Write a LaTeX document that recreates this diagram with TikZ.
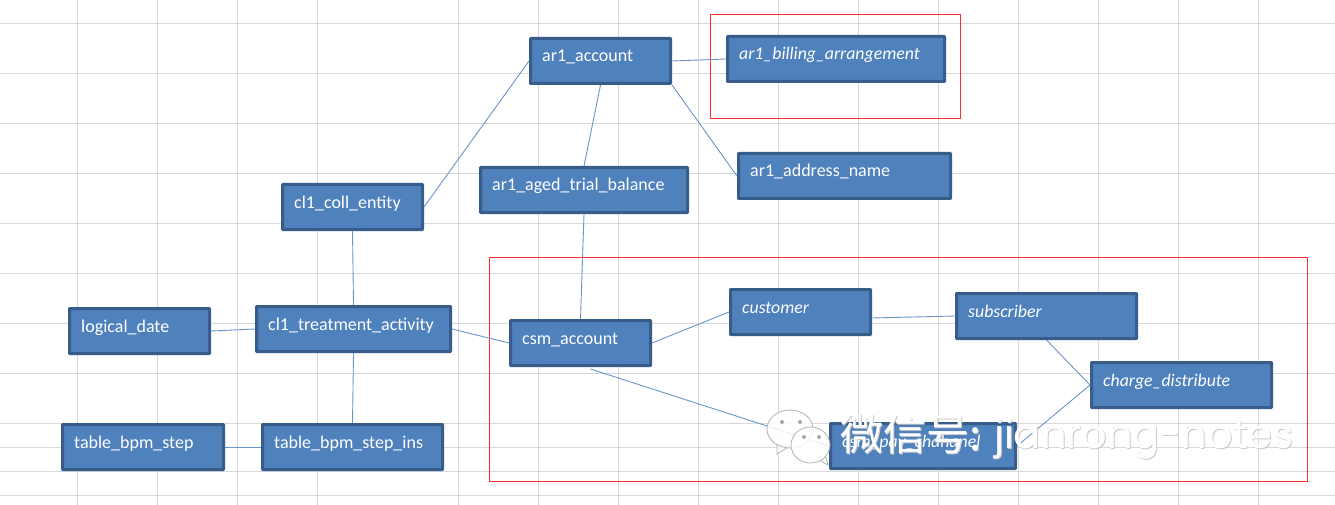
\documentclass[tikz,border=0pt]{standalone}
\usepackage{fontspec}
\setmainfont{Carlito}
\newfontfamily\cjkfont{Noto Sans CJK SC}
\newfontfamily\latinmark{Poppins}
\definecolor{gridgray}{HTML}{D9D9D9}
\definecolor{boxfill}{HTML}{4F81BD}
\definecolor{boxedge}{HTML}{385D8A}
\definecolor{linkblue}{HTML}{6A94CA}
\definecolor{framered}{HTML}{FF3030}
\tikzset{
  x=1pt,y=-1pt,
  tablebox/.style={draw=boxedge,fill=boxfill,line width=3pt,rounded corners=0.6pt,inner sep=0pt,outer sep=1.5pt},
  link/.style={draw=linkblue,line width=0.9pt},
  caption/.style={text=white,font=\fontsize{18}{20}\selectfont,anchor=base west,inner sep=0pt,yshift=-1pt},
  italiccaption/.style={caption,font=\fontsize{17.8}{20}\selectfont\itshape},
  gridline/.style={draw=gridgray,line width=1pt},
  frameline/.style={draw=framered,line width=1.2pt,inner sep=0pt,outer sep=0pt},
  cjkmark/.style={font=\cjkfont\fontsize{43}{46}\selectfont,anchor=base west,inner sep=0pt},
  latinmk/.style={font=\latinmark\fontsize{40}{46}\selectfont,anchor=base west,inner sep=0pt},
  bubble/.style={draw=black!30,fill=white,fill opacity=0.85,line width=0.8pt},
  bubbleeye/.style={fill=black!35}
}
% box: name, x0, y0, x1, y1 (outer edges)
\newcommand{\tbox}[5]{\node[tablebox,minimum width=#4-#2-3pt,minimum height=#5-#3-3pt] (#1) at ({(#2+#4)/2},{(#3+#5)/2}) {};}
\begin{document}
\begin{tikzpicture}
\useasboundingbox (0,0) rectangle (1335,505);
\fill[white] (0,0) rectangle (1335,505);
% sheet grid
\foreach \gx in {77.5,157.5,237.5,317.5,458.5,538.5,618.5,698.5,778.5,858.5,938.5,1018.5,1098.5,1178.5,1258.5}
  \draw[gridline] (\gx,0) -- (\gx,505);
\foreach \gy in {23.5,73.5,123.5,173.5,223.5,273.5,323.5,373.5,423.5,447.5,471.5,495.5}
  \draw[gridline] (0,\gy) -- (1335,\gy);
% grouping frames
\node[frameline,minimum width=250pt,minimum height=104pt] (billframe) at (835.5,66.5) {};
\node[frameline,minimum width=818pt,minimum height=224pt] (csmframe) at (898.5,369.5) {};
% table boxes
\tbox{account}{529}{37}{672}{85}
\tbox{billing}{726}{35}{946}{83}
\tbox{address}{737}{152}{952}{200}
\tbox{aged}{479}{166}{689}{214}
\tbox{coll}{281}{183}{424}{231}
\tbox{logical}{68}{307}{211}{355}
\tbox{treatment}{255}{305}{452}{353}
\tbox{bpmstep}{61}{423}{225}{471}
\tbox{bpmins}{261}{423}{444}{471}
\tbox{csm}{509}{319}{652}{367}
\tbox{customer}{729}{288}{872}{336}
\tbox{subscriber}{955}{292}{1138}{340}
\tbox{charge}{1090}{361}{1273}{409}
\tbox{pay}{829}{422}{1017}{470}
% connectors
\draw[link] (account.east) -- (billing.west);
\draw[link] (coll.east) -- (account.west);
\draw[link] (account.south) -- (aged.north);
\draw[link] (aged.south) -- (csm.north);
\draw[link] (account.south east) -- (address.west);
\draw[link] (coll.south) -- (treatment.north);
\draw[link] (logical.east) -- (treatment.west);
\draw[link] (treatment.east) -- (csm.west);
\draw[link] (treatment.south) -- (bpmins.north);
\draw[link] (bpmstep.east) -- (bpmins.west);
\draw[link] (csm.east) -- (customer.west);
\draw[link] ([yshift=-6pt]customer.east) -- (subscriber.west);
\draw[link] ([xshift=10pt,yshift=-2pt]csm.south) -- (pay.west);
\draw[link] (subscriber.south) -- (charge.west);
\draw[link] (pay.east) -- (charge.west);
% captions
\node[caption] (t1) at (542,61) {ar1\_account};
\node[italiccaption] (t2) at (739,59) {ar1\_billing\_arrangement};
\node[caption] (t3) at (750,176) {ar1\_address\_name};
\node[caption] (t4) at (492,190) {ar1\_aged\_trial\_balance};
\node[caption] (t5) at (294,207) {cl1\_coll\_entity};
\node[caption] (t6) at (81,331) {logical\_date};
\node[caption] (t7) at (268,329) {cl1\_treatment\_activity};
\node[caption] (t8) at (74,447) {table\_bpm\_step};
\node[caption] (t9) at (274,447) {table\_bpm\_step\_ins};
\node[caption] (t10) at (522,343) {csm\_account};
\node[italiccaption] (t11) at (742,312) {customer};
\node[italiccaption] (t12) at (968,316) {subscriber};
\node[italiccaption] (t13) at (1103,385) {charge\_distribute};
\node[italiccaption] (t14) at (842,446) {csm\_pay\_chahanel};
% overlaid account mark: two chat bubbles
\path[bubble] (777,444) -- (777,454) -- (790,446) -- cycle;
\path[bubble] (790,429) ellipse (23pt and 19pt);
\path[bubble] (817,459) -- (828,465) -- (825,454) -- cycle;
\path[bubble] (810.5,445) ellipse (19.5pt and 18pt);
\fill[bubbleeye] (782,422) circle (2pt) (800,422) circle (2pt);
\fill[bubbleeye] (804,437) circle (2pt) (819,437) circle (2pt);
% overlaid account mark: lettering with a soft shadow
\node[cjkmark,text=black!20] (cjkshadow) at (841,451) {微信号:};
\node[cjkmark,text=white] (cjkmain) at (840,450) {微信号:};
\node[latinmk,text=black!20] (latshadow) at (995,449) {jianrong-notes};
\node[latinmk,text=white] (latmain) at (994,448) {jianrong-notes};
\end{tikzpicture}
\end{document}
